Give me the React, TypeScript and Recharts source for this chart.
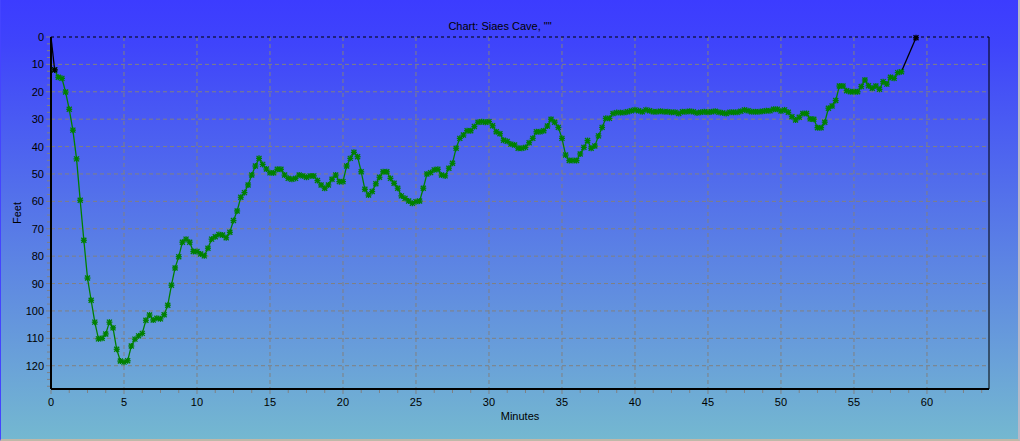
import React from "react";
import { LineChart, Line, XAxis, YAxis, CartesianGrid, ReferenceLine, Label } from "recharts";

// samples every 15 s
const diveMinutes = [
  0.25, 0.5, 0.75, 1, 1.25, 1.5, 1.75, 2, 2.25, 2.5, 2.75, 3, 3.25, 3.5, 3.75, 4, 4.25, 4.5, 4.75, 5,
  5.25, 5.5, 5.75, 6, 6.25, 6.5, 6.75, 7, 7.25, 7.5, 7.75, 8, 8.25, 8.5, 8.75, 9, 9.25, 9.5, 9.75, 10,
  10.25, 10.5, 10.75, 11, 11.25, 11.5, 11.75, 12, 12.25, 12.5, 12.75, 13, 13.25, 13.5, 13.75, 14, 14.25, 14.5, 14.75, 15,
  15.25, 15.5, 15.75, 16, 16.25, 16.5, 16.75, 17, 17.25, 17.5, 17.75, 18, 18.25, 18.5, 18.75, 19, 19.25, 19.5, 19.75, 20,
  20.25, 20.5, 20.75, 21, 21.25, 21.5, 21.75, 22, 22.25, 22.5, 22.75, 23, 23.25, 23.5, 23.75, 24, 24.25, 24.5, 24.75, 25,
  25.25, 25.5, 25.75, 26, 26.25, 26.5, 26.75, 27, 27.25, 27.5, 27.75, 28, 28.25, 28.5, 28.75, 29, 29.25, 29.5, 29.75, 30,
  30.25, 30.5, 30.75, 31, 31.25, 31.5, 31.75, 32, 32.25, 32.5, 32.75, 33, 33.25, 33.5, 33.75, 34, 34.25, 34.5, 34.75, 35,
  35.25, 35.5, 35.75, 36, 36.25, 36.5, 36.75, 37, 37.25, 37.5, 37.75, 38, 38.25, 38.5, 38.75, 39, 39.25, 39.5, 39.75, 40,
  40.25, 40.5, 40.75, 41, 41.25, 41.5, 41.75, 42, 42.25, 42.5, 42.75, 43, 43.25, 43.5, 43.75, 44, 44.25, 44.5, 44.75, 45,
  45.25, 45.5, 45.75, 46, 46.25, 46.5, 46.75, 47, 47.25, 47.5, 47.75, 48, 48.25, 48.5, 48.75, 49, 49.25, 49.5, 49.75, 50,
  50.25, 50.5, 50.75, 51, 51.25, 51.5, 51.75, 52, 52.25, 52.5, 52.75, 53, 53.25, 53.5, 53.75, 54, 54.25, 54.5, 54.75, 55,
  55.25, 55.5, 55.75, 56, 56.25, 56.5, 56.75, 57, 57.25, 57.5, 57.75, 58, 58.25,
];

const diveFeet = [
  12.0, 14.7, 15.1, 20.1, 26.4, 34.0, 44.5, 59.6, 74.2, 88.0, 96.1, 104.1, 110.2, 110.0, 108.4, 104.1, 106.2, 114.0, 118.3, 118.7,
  118.2, 112.8, 110.3, 109.1, 108.2, 103.4, 101.5, 103.3, 102.7, 102.9, 101.4, 97.9, 90.6, 84.3, 80.2, 74.9, 73.8, 74.9, 78.3, 78.3,
  79.2, 79.9, 77.1, 73.8, 72.9, 72.1, 72.3, 73.3, 71.3, 67.0, 63.5, 58.5, 56.8, 54.0, 50.4, 47.1, 44.3, 46.5, 48.2, 49.6,
  49.6, 48.3, 48.3, 50.4, 51.6, 51.9, 51.6, 50.4, 50.7, 51.2, 50.7, 50.7, 52.4, 54.0, 55.2, 54.0, 51.9, 50.4, 52.8, 52.8,
  47.1, 44.3, 42.1, 43.7, 49.2, 55.6, 57.7, 56.4, 53.6, 51.2, 49.2, 49.2, 51.6, 53.4, 55.2, 58.0, 58.9, 59.9, 60.7, 60.1,
  59.9, 55.2, 50.0, 49.5, 48.5, 48.3, 50.4, 50.7, 47.9, 46.1, 40.6, 37.0, 35.8, 34.2, 34.2, 32.7, 31.1, 30.9, 31.1, 30.9,
  32.4, 34.6, 35.3, 37.7, 38.1, 39.1, 39.4, 40.6, 40.6, 40.3, 38.6, 37.0, 34.6, 34.6, 34.2, 32.5, 30.0, 31.1, 33.0, 37.0,
  43.1, 45.1, 45.1, 45.1, 42.7, 40.3, 37.8, 40.6, 39.8, 36.1, 33.0, 29.7, 29.7, 27.9, 27.6, 27.6, 27.6, 27.3, 26.9, 26.6,
  26.9, 27.3, 26.6, 26.9, 27.3, 27.3, 27.1, 27.3, 27.3, 27.5, 27.5, 27.9, 27.3, 27.3, 27.1, 27.3, 27.7, 27.5, 27.3, 27.5,
  27.3, 27.1, 27.5, 27.7, 27.9, 27.5, 27.5, 27.5, 27.1, 26.6, 26.9, 27.3, 27.3, 27.3, 27.1, 26.9, 26.9, 26.4, 26.4, 27.0,
  26.6, 27.5, 29.1, 30.3, 29.3, 27.9, 27.9, 29.9, 30.0, 33.1, 33.1, 31.1, 26.0, 25.2, 23.2, 17.9, 17.9, 19.6, 20.0, 20.0,
  20.0, 18.1, 15.7, 17.8, 18.7, 17.9, 19.1, 16.3, 17.2, 14.7, 15.1, 13.0, 12.7,
];

// surface legs drawn in black
const entryMinutes = [0, 0.25];
const entryFeet = [0, 12.0];
const exitMinutes = [58.25, 59.25];
const exitFeet = [12.7, 0.3];

const xMajorTicks = [0, 5, 10, 15, 20, 25, 30, 35, 40, 45, 50, 55, 60];
const xMinorTicks = [
  0, 1.25, 2.5, 3.75, 5, 6.25, 7.5, 8.75, 10, 11.25, 12.5, 13.75, 15, 16.25, 17.5, 18.75,
  20, 21.25, 22.5, 23.75, 25, 26.25, 27.5, 28.75, 30, 31.25, 32.5, 33.75, 35, 36.25, 37.5, 38.75,
  40, 41.25, 42.5, 43.75, 45, 46.25, 47.5, 48.75, 50, 51.25, 52.5, 53.75, 55, 56.25, 57.5, 58.75,
  60, 61.25, 62.5, 63.75,
];
const yMajorTicks = [0, 10, 20, 30, 40, 50, 60, 70, 80, 90, 100, 110, 120];
const yMinorTicks = [
  0, 2.5, 5, 7.5, 10, 12.5, 15, 17.5, 20, 22.5, 25, 27.5, 30, 32.5, 35, 37.5, 40, 42.5, 45, 47.5,
  50, 52.5, 55, 57.5, 60, 62.5, 65, 67.5, 70, 72.5, 75, 77.5, 80, 82.5, 85, 87.5, 90, 92.5, 95, 97.5,
  100, 102.5, 105, 107.5, 110, 112.5, 115, 117.5, 120, 122.5, 125, 127.5,
];

const toRows = (mins: number[], feet: number[]) => mins.map((m, i) => ({ min: m, ft: feet[i] }));

const FONT = "'Liberation Sans', Arial, sans-serif";

const Star = (props: any) => {
  const { cx, cy, color, key } = props;
  if (cx == null || cy == null) return <g key={key} />;
  return (
    <g key={key} stroke={color} strokeWidth={1.3}>
      <line x1={cx - 3} y1={cy} x2={cx + 3} y2={cy} />
      <line x1={cx} y1={cy - 3} x2={cx} y2={cy + 3} />
      <line x1={cx - 2.5} y1={cy - 2.5} x2={cx + 2.5} y2={cy + 2.5} />
      <line x1={cx - 2.5} y1={cy + 2.5} x2={cx + 2.5} y2={cy - 2.5} />
      <rect x={cx - 1.5} y={cy - 1.5} width={3} height={3} fill={color} stroke="none" />
    </g>
  );
};

const renderXTick = (props: any) => {
  const { x, y, payload } = props;
  const major = xMajorTicks.includes(payload.value);
  return (
    <g>
      <line x1={x} x2={x} y1={y + 1} y2={y + (major ? 5 : 4)} stroke="#808080" />
      {major && (
        <text x={x} y={y + 13} textAnchor="middle" dominantBaseline="central" fontSize={11} fontFamily={FONT} fill="#000">
          {payload.value}
        </text>
      )}
    </g>
  );
};

const renderYTick = (props: any) => {
  const { x, y, payload } = props;
  const major = yMajorTicks.includes(payload.value);
  return (
    <g>
      <line x1={x - (major ? 5 : 4)} x2={x - 1} y1={y} y2={y} stroke="#808080" />
      {major && (
        <text x={x - 7} y={y} textAnchor="end" dominantBaseline="central" fontSize={11} fontFamily={FONT} fill="#000">
          {payload.value}
        </text>
      )}
    </g>
  );
};

export default function App() {
  const dive = toRows(diveMinutes, diveFeet);
  const entry = toRows(entryMinutes, entryFeet);
  const exit = toRows(exitMinutes, exitFeet);

  return (
    <div
      style={{
        position: "fixed",
        left: 0,
        top: 0,
        width: 1020,
        height: 441,
        boxSizing: "border-box",
        background: "linear-gradient(#3c3cff 0%, #3f44fb 10%, #74b8d0 100%)",
        borderLeft: "1px solid #4444ff",
        borderRight: "2px solid #b8b8c8",
        borderBottom: "2px solid #c0b8a8",
        overflow: "hidden",
      }}
    >
      <div
        style={{
          position: "absolute",
          left: 0,
          top: 20,
          width: 998,
          textAlign: "center",
          fontFamily: FONT,
          fontSize: 11,
          lineHeight: "13px",
          color: "#000",
        }}
      >
        Chart: Siaes Cave, ""
      </div>
      <div style={{ position: "absolute", left: -1, top: 0 }}>
        <LineChart width={1020} height={441} margin={{ top: 37, right: 31, bottom: 0, left: 8 }}>
          <CartesianGrid
            stroke="#808080"
            strokeDasharray="4 3"
            verticalValues={xMajorTicks.slice(1)}
            horizontalValues={yMajorTicks.slice(1)}
          />
          <XAxis
            type="number"
            dataKey="min"
            domain={[0, 64.25]}
            ticks={xMinorTicks}
            interval={0}
            tick={renderXTick}
            tickLine={false}
            tickSize={0}
            tickMargin={0}
            height={52}
            axisLine={{ stroke: "#000", strokeWidth: 2 }}
          >
            <Label value="Minutes" position="insideTop" offset={23} fontSize={11} fontFamily={FONT} fill="#000" />
          </XAxis>
          <YAxis
            type="number"
            dataKey="ft"
            reversed
            domain={[0, 128.5]}
            ticks={yMinorTicks}
            interval={0}
            tick={renderYTick}
            tickLine={false}
            tickSize={0}
            tickMargin={0}
            width={43}
            axisLine={{ stroke: "#000", strokeWidth: 2 }}
          >
            <Label value="Feet" angle={-90} position="center" dx={-12} fontSize={11} fontFamily={FONT} fill="#000" />
          </YAxis>
          <ReferenceLine y={0} stroke="#000" strokeDasharray="3 3" />
          <ReferenceLine x={64.25} stroke="#000" />
          <Line
            data={dive}
            dataKey="ft"
            stroke="#008000"
            strokeWidth={1.3}
            dot={(p: any) => <Star {...p} color="#008000" />}
            activeDot={false}
            isAnimationActive={false}
          />
          <Line
            data={entry}
            dataKey="ft"
            stroke="#000"
            strokeWidth={1.3}
            dot={(p: any) => (p.index === 0 ? <g key={p.key} /> : <Star {...p} color="#000" />)}
            activeDot={false}
            isAnimationActive={false}
          />
          <Line
            data={exit}
            dataKey="ft"
            stroke="#000"
            strokeWidth={1.3}
            dot={(p: any) => (p.index === 0 ? <g key={p.key} /> : <Star {...p} color="#000" />)}
            activeDot={false}
            isAnimationActive={false}
          />
        </LineChart>
      </div>
    </div>
  );
}
